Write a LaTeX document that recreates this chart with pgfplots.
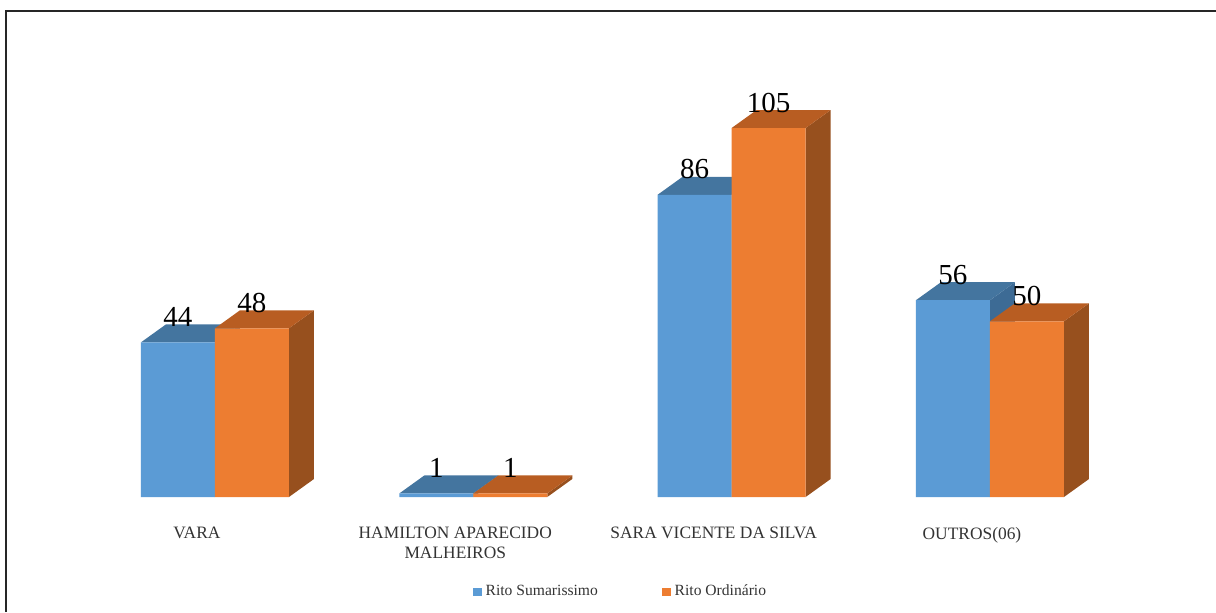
\documentclass[border=0pt]{standalone}
\usepackage{fontspec}
\setmainfont{Liberation Serif}
\usepackage{pgfplots}
\pgfplotsset{compat=1.18}
\definecolor{blueF}{HTML}{5B9BD5}
\definecolor{blueT}{HTML}{44759F}
\definecolor{blueS}{HTML}{3D6B95}
\definecolor{orangeF}{HTML}{ED7D31}
\definecolor{orangeT}{HTML}{B85D22}
\definecolor{orangeS}{HTML}{97501E}
\definecolor{txt}{HTML}{333333}
% side and top faces of a bar: left edge, value, colours
\newcommand{\faces}[4]{%
  \pgfmathsetmacro{\xa}{#1}\pgfmathsetmacro{\xb}{#1+0.2865}\pgfmathsetmacro{\xc}{#1+0.2865+0.0968}\pgfmathsetmacro{\xd}{#1+0.0968}%
  \pgfmathsetmacro{\ya}{#2}\pgfmathsetmacro{\yb}{#2+5.12}%
  \addplot[fill=#3,draw=none,forget plot] coordinates {(\xb,0) (\xc,5.12) (\xc,\yb) (\xb,\ya)} --cycle;
  \addplot[fill=#4,draw=none,forget plot] coordinates {(\xa,\ya) (\xb,\ya) (\xc,\yb) (\xd,\yb)} --cycle;
}
\begin{document}
\begin{tikzpicture}[x=1pt,y=1pt]
\path[use as bounding box] (0,-57.5) rectangle (608,248.5);
\draw[line width=1pt,color=black!85] (3,-57.5) -- (3,243) -- (608,243);
\begin{axis}[
  at={(0,0)},anchor=south west,
  scale only axis,width=608pt,height=248.5pt,
  xmin=-0.832,xmax=3.875,ymin=0,ymax=141.43,
  clip=false,
  /pgf/number format/assume math mode=true,
  axis line style={draw=none},
  ytick=\empty,
  xtick={0,1,2,3},
  xticklabels={VARA,HAMILTON APARECIDO\\MALHEIROS,SARA VICENTE DA SILVA,OUTROS(06)},
  major tick length=0pt,
  tick style={draw=none},
  xticklabel style={font=\fontsize{8.7}{9.8}\selectfont,text=txt,align=center,xshift=-9pt,anchor=north,yshift=-11.5pt},
  legend columns=2,
  legend style={draw=none,fill=none,at={(0.5111,-0.191)},anchor=center,
    font=\fontsize{7.8}{9}\selectfont,text=txt,
    /tikz/every even column/.style={column sep=30pt},inner sep=0pt},
  legend image code/.code={\fill[#1] (0pt,-2.2pt) rectangle (4.4pt,2.2pt);},
  lbl/.style={nodes near coords,
    nodes near coords style={font=\fontsize{14.5}{16}\selectfont,text=black,anchor=base,inner sep=0pt,yshift=8pt,xshift=#1}},
]
\faces{-0.2865}{44}{blueS}{blueT}
\faces{0.7135}{1}{blueS}{blueT}
\faces{1.7135}{86}{blueS}{blueT}
\faces{2.7135}{56}{blueS}{blueT}
\addplot[ybar,lbl=-18.5pt,bar width=37pt,bar shift=-18.5pt,fill=blueF,draw=none] coordinates {(0,44) (1,1) (2,86) (3,56)};
\addlegendentry{Rito Sumarissimo}
\faces{0}{48}{orangeS}{orangeT}
\faces{1}{1}{orangeS}{orangeT}
\faces{2}{105}{orangeS}{orangeT}
\faces{3}{50}{orangeS}{orangeT}
\addplot[ybar,lbl=18.5pt,bar width=37pt,bar shift=18.5pt,fill=orangeF,draw=none] coordinates {(0,48) (1,1) (2,105) (3,50)};
\addlegendentry{Rito Ordinário}
\end{axis}
\end{tikzpicture}
\end{document}
